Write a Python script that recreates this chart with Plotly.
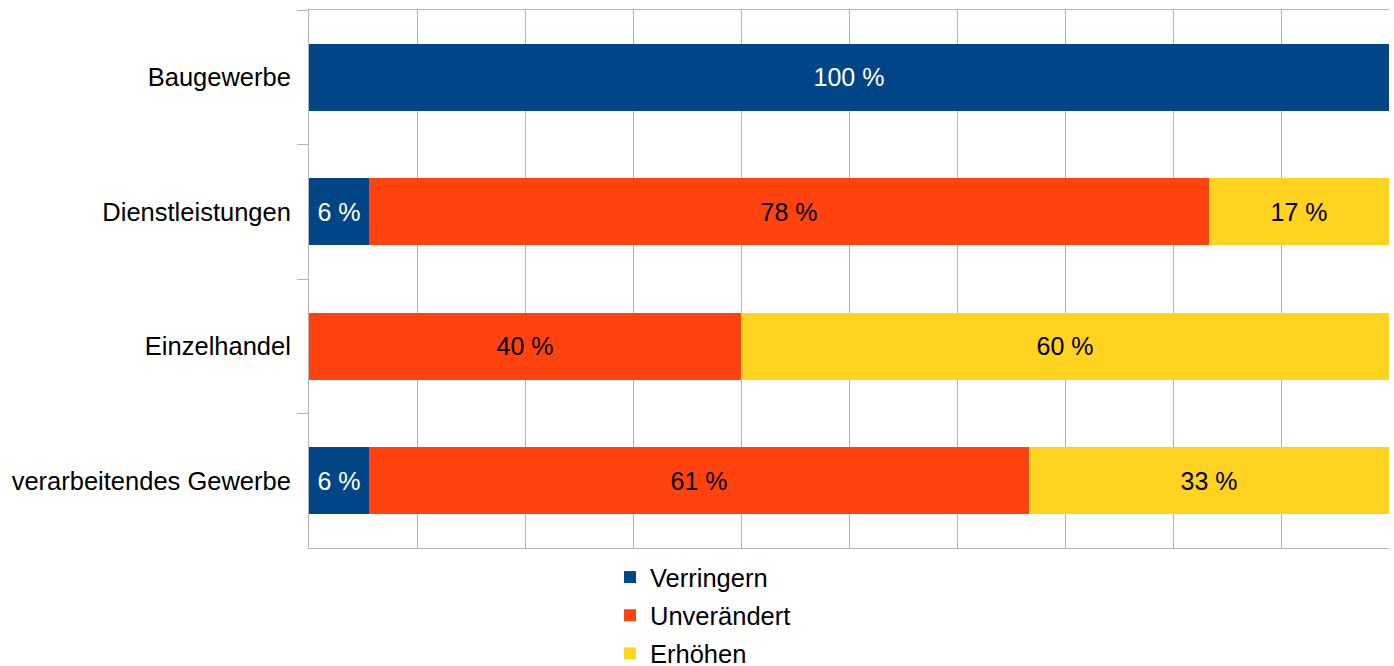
import plotly.graph_objects as go

categories = ["Baugewerbe", "Dienstleistungen", "Einzelhandel", "verarbeitendes Gewerbe"]
series_names = ["Verringern", "Unverändert", "Erhöhen"]
verringern = [100.0, 5.56, 0.0, 5.56]
unveraendert = [0.0, 77.78, 40.0, 61.11]
erhoehen = [0.0, 16.67, 60.0, 33.33]

colors = ["#004586", "#ff420e", "#ffd320"]
text_colors = ["#ffffff", "#000000", "#000000"]
FONT = "Liberation Sans, Arial, sans-serif"
FS = 25.5

fig = go.Figure()
for i, (name, vals) in enumerate(zip(series_names, [verringern, unveraendert, erhoehen])):
    texts = [f"{round(v)} %" if v > 0 else "" for v in vals]
    fig.add_trace(go.Bar(
        y=categories, x=vals, name=name, orientation="h",
        marker=dict(color=colors[i], line=dict(width=0)),
        text=texts, textposition="inside", insidetextanchor="middle",
        textangle=0,
        textfont=dict(color=text_colors[i], size=25, family=FONT),
        constraintext="none", legendgroup=name, hoverinfo="skip",
    ))

fig.update_layout(
    width=1394, height=666,
    barmode="stack", bargap=0.5,
    margin=dict(l=309, r=5, t=10, b=118, autoexpand=False),
    paper_bgcolor="white", plot_bgcolor="white",
    font=dict(family=FONT, size=FS, color="#000000"),
    showlegend=True,
    legend=dict(
        orientation="v", xref="container", yref="container",
        x=610 / 1394, xanchor="left", y=1 - 554 / 666, yanchor="top",
        font=dict(size=FS, family=FONT), tracegroupgap=2,
        itemclick=False,
    ),
    xaxis=dict(
        range=[0, 100], dtick=10, showticklabels=False, ticks="",
        showgrid=True, gridcolor="#b3b3b3", gridwidth=1,
        showline=True, linecolor="#b3b3b3", linewidth=1, mirror=True,
        zeroline=False,
    ),
    yaxis=dict(
        categoryorder="array", categoryarray=categories, autorange="reversed",
        tickson="boundaries", ticks="outside", ticklen=11, tickcolor="#b3b3b3",
        showline=True, linecolor="#b3b3b3", linewidth=1,
        showgrid=False, tickfont=dict(size=FS, family=FONT),
        ticklabelstandoff=12, automargin=False,
    ),
)

fig.write_html(
    "out.html",
    config={"displayModeBar": False},
    post_script="document.body.style.margin='0';document.body.style.overflow='hidden';",
)
